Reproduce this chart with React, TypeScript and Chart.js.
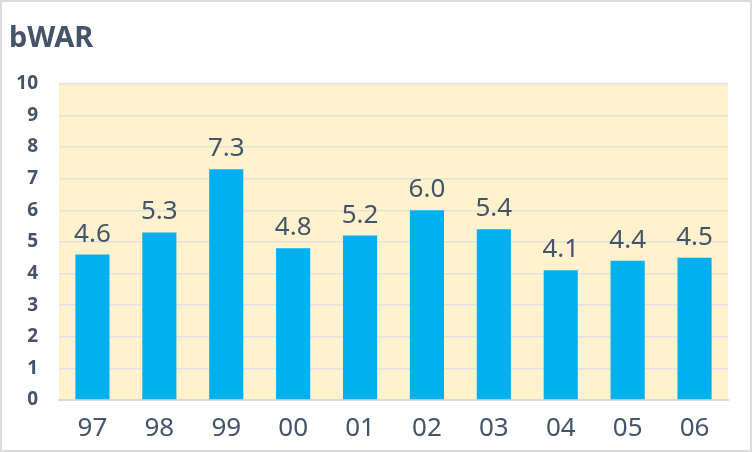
import { useEffect, useRef } from 'react';
import Chart from 'chart.js/auto';

const seasons = ['97', '98', '99', '00', '01', '02', '03', '04', '05', '06'];
const bwar = [4.6, 5.3, 7.3, 4.8, 5.2, 6.0, 5.4, 4.1, 4.4, 4.5];
const yTicks = [0, 1, 2, 3, 4, 5, 6, 7, 8, 9, 10];

const TEXT = '#44546A';
const FONT = "'Noto Sans', 'Open Sans', sans-serif";

const frame = {
  id: 'frame',
  beforeDraw(chart: Chart) {
    const { ctx, width, height, chartArea } = chart;
    ctx.save();
    ctx.fillStyle = '#ffffff';
    ctx.fillRect(0, 0, width, height);
    ctx.fillStyle = '#FFF2CC';
    ctx.fillRect(chartArea.left, chartArea.top, chartArea.right - chartArea.left, chartArea.bottom - chartArea.top);
    ctx.strokeStyle = '#dcdcdc';
    ctx.lineWidth = 2;
    ctx.strokeRect(1, 1, width - 2, height - 2);
    ctx.restore();
  }
};

const valueLabels = {
  id: 'valueLabels',
  afterDatasetsDraw(chart: Chart) {
    const { ctx } = chart;
    const meta = chart.getDatasetMeta(0);
    ctx.save();
    ctx.fillStyle = TEXT;
    ctx.font = `26px ${FONT}`;
    ctx.textAlign = 'center';
    ctx.textBaseline = 'alphabetic';
    meta.data.forEach((bar: any, i: number) => {
      ctx.fillText(bwar[i].toFixed(1), bar.x, bar.y - 13);
    });
    ctx.restore();
  }
};

export default function App() {
  const chartRef = useRef<HTMLCanvasElement>(null);
  const chartInstance = useRef<Chart | null>(null);

  useEffect(() => {
    if (chartRef.current) {
      if (chartInstance.current) {
        chartInstance.current.destroy();
      }
      const ctx = chartRef.current.getContext('2d');
      if (ctx) {
        chartInstance.current = new Chart(ctx, {
          type: 'bar',
          data: {
            labels: seasons,
            datasets: [{
              label: 'bWAR',
              data: bwar,
              backgroundColor: '#00B0F0',
              barPercentage: 0.51,
              categoryPercentage: 1
            }]
          },
          options: {
            animation: false,
            responsive: false,
            layout: { padding: { left: 9, right: 24, top: 0, bottom: 0 } },
            plugins: {
              legend: { display: false },
              tooltip: { enabled: false },
              title: {
                display: true,
                text: 'bWAR',
                align: 'start',
                color: TEXT,
                font: { family: FONT, size: 29, weight: 'bold' },
                padding: { top: 21, bottom: 28 }
              }
            },
            scales: {
              x: {
                grid: { display: false },
                border: { display: true, color: '#d9d9d9', width: 2 },
                ticks: {
                  color: TEXT,
                  font: { family: FONT, size: 26 },
                  padding: 5
                },
                afterFit: (scale: any) => { scale.height = 52; }
              },
              y: {
                min: 0,
                max: 10,
                afterBuildTicks: (scale: any) => {
                  scale.ticks = yTicks.map(v => ({ value: v }));
                },
                grid: { color: '#e2e2e2', lineWidth: 1.5, drawTicks: false },
                border: { display: false },
                ticks: {
                  color: TEXT,
                  font: { family: FONT, size: 19, weight: 'bold' },
                  padding: 21
                },
                afterFit: (scale: any) => { scale.width = 50; }
              }
            }
          },
          plugins: [frame, valueLabels]
        });
      }
    }
    return () => {
      if (chartInstance.current) {
        chartInstance.current.destroy();
      }
    };
  }, []);

  return (
    <div style={{ position: 'absolute', left: 0, top: 0, width: 752, height: 452 }}>
      <canvas ref={chartRef} width={752} height={452} style={{ width: 752, height: 452 }} />
    </div>
  );
}
